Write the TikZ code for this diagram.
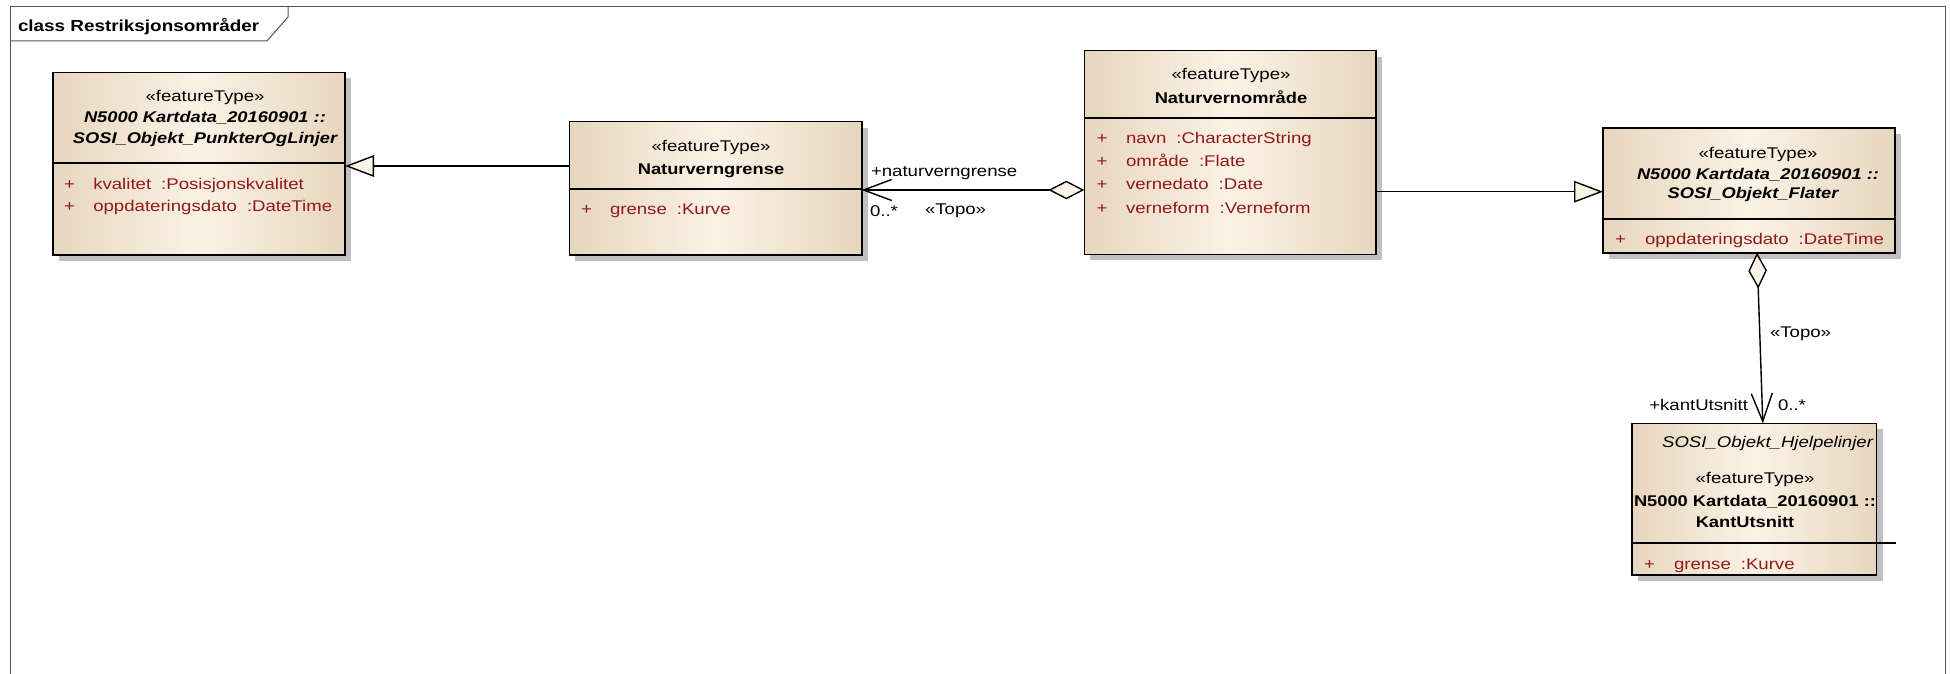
\documentclass[tikz,border=0pt]{standalone}
\usepackage{fontspec}
\setmainfont{Liberation Sans}[FakeStretch=1.2, BoldFeatures={FakeStretch=1.18}, BoldItalicFeatures={FakeStretch=1.18}]
\usetikzlibrary{arrows.meta,calc}
\definecolor{tanedge}{RGB}{231,214,190}
\definecolor{tanmid}{RGB}{251,242,230}
\definecolor{attrred}{RGB}{145,25,25}
\definecolor{shadowgray}{RGB}{192,192,192}
\definecolor{framegray}{RGB}{85,85,85}
\definecolor{creamfill}{RGB}{253,244,232}
\newcommand{\umlbox}[5]{%
  \node[shadowbox, minimum width=#4pt, minimum height=#5pt] (#1s) at (#2+6,#3+6) {};
  \node[classbox, minimum width=#4pt, minimum height=#5pt] (#1) at (#2,#3) {};
}
\begin{document}
\begin{tikzpicture}[x=1pt,y=-1pt,
  shadowbox/.style={fill=shadowgray, draw=none, inner sep=0pt, outer sep=0pt},
  classbox/.style={draw=black, line width=1.6pt, left color=tanedge, right color=tanedge, middle color=tanmid, inner sep=0pt, outer sep=0pt},
  divider/.style={draw=black, line width=1.6pt},
  conn/.style={draw=black, line width=1.4pt},
  gen/.style={conn, -{Triangle[length=29pt, width=21.6pt, fill=creamfill]}},
  agg/.style={conn, {Diamond[length=36pt, width=18.6pt, fill=creamfill]}-{Straight Barb[length=28pt, width=21pt]}},
  txt/.style={inner sep=0pt, outer sep=0pt, font=\fontsize{15.5}{18}\selectfont},
  stereo/.style={txt, anchor=base},
  cname/.style={txt, anchor=base, font=\fontsize{15.5}{18}\selectfont\bfseries},
  aname/.style={txt, anchor=base, font=\fontsize{15.5}{18}\selectfont\bfseries\itshape},
  iname/.style={txt, anchor=base east, font=\fontsize{15.5}{18}\selectfont\itshape},
  plus/.style={txt, anchor=base west, text=attrred},
  attr/.style={txt, anchor=base west, text=attrred},
  lbl/.style={txt, anchor=base west},
  lble/.style={txt, anchor=base east},
  frameline/.style={draw=framegray, line width=1pt},
  titletext/.style={inner sep=0pt, outer sep=0pt, anchor=base west, font=\fontsize{16}{18}\selectfont\bfseries}
]
\useasboundingbox (0,0) rectangle (1950,674);
\fill[white] (0,0) rectangle (1950,674);

% frame
\draw[frameline] (10,674) -- (10,7) -- (1945,7) -- (1945,674);
\draw[frameline] (10,41) -- (267,41) -- (288,17) -- (288,7);
\node[titletext] (title) at (18,31.5) {class Restriksjonsområder};

% boxes
\umlbox{b1}{198.9}{163.7}{292.3}{182.7}
\umlbox{b2}{715.5}{188.3}{292.4}{133.3}
\umlbox{b3}{1230.2}{152.5}{291.7}{203.6}
\umlbox{b4}{1749}{190.5}{292}{124.4}
\umlbox{b5}{1754.3}{499.2}{244.7}{151.7}

% dividers
\draw[divider] (b1.west |- 0,162.7) -- (b1.east |- 0,162.7);
\draw[divider] (b2.west |- 0,189) -- (b2.east |- 0,189);
\draw[divider] (b3.west |- 0,118.3) -- (b3.east |- 0,118.3);
\draw[divider] (b4.west |- 0,219) -- (b4.east |- 0,219);
\draw[divider] (b5.west |- 0,543) -- (1896,543);

% box 1
\node[stereo] (b1t1) at (205,102) {«featureType»};
\node[aname] (b1t2) at (205,123) {N5000 Kartdata\_20160901 ::};
\node[aname] (b1t3) at (205,143) {SOSI\_Objekt\_PunkterOgLinjer};
\node[plus] (b1p1) at (64,189) {+};
\node[attr] (b1a1) at (93.3,189) {kvalitet\hspace{10pt}:Posisjonskvalitet};
\node[plus] (b1p2) at (64,211) {+};
\node[attr] (b1a2) at (93.3,211) {oppdateringsdato\hspace{10pt}:DateTime};

% box 2
\node[stereo] (b2t1) at (711,151.7) {«featureType»};
\node[cname] (b2t2) at (711,174) {Naturverngrense};
\node[plus] (b2p1) at (581,214) {+};
\node[attr] (b2a1) at (610,214) {grense\hspace{10pt}:Kurve};

% box 3
\node[stereo] (b3t1) at (1231,80) {«featureType»};
\node[cname] (b3t2) at (1231,103) {Naturvernområde};
\node[plus] (b3p1) at (1096.7,143) {+};
\node[attr] (b3a1) at (1126,143) {navn\hspace{10pt}:CharacterString};
\node[plus] (b3p2) at (1096.7,166) {+};
\node[attr] (b3a2) at (1126,166) {område\hspace{10pt}:Flate};
\node[plus] (b3p3) at (1096.7,189) {+};
\node[attr] (b3a3) at (1126,189) {vernedato\hspace{10pt}:Date};
\node[plus] (b3p4) at (1096.7,213) {+};
\node[attr] (b3a4) at (1126,213) {verneform\hspace{10pt}:Verneform};

% box 4
\node[stereo] (b4t1) at (1758,158) {«featureType»};
\node[aname] (b4t2) at (1758,179) {N5000 Kartdata\_20160901 ::};
\node[aname] (b4t3) at (1753,198) {SOSI\_Objekt\_Flater};
\node[plus] (b4p1) at (1615,244) {+};
\node[attr] (b4a1) at (1645,244) {oppdateringsdato\hspace{10pt}:DateTime};

% box 5
\node[iname] (b5t0) at (1873,447) {SOSI\_Objekt\_Hjelpelinjer};
\node[stereo] (b5t1) at (1755,483) {«featureType»};
\node[cname] (b5t2) at (1755,506) {N5000 Kartdata\_20160901 ::};
\node[cname] (b5t3) at (1745,527) {KantUtsnitt};
\node[plus] (b5p1) at (1644,569) {+};
\node[attr] (b5a1) at (1674,569) {grense\hspace{10pt}:Kurve};

% connector end points on the boxes
\coordinate (g1e) at ([yshift=-2.3pt]b1.east);
\coordinate (g1s) at (b2.west |- g1e);
\coordinate (g2e) at ([yshift=-1.2pt]b4.west);
\coordinate (g2s) at (b3.east |- g2e);
\coordinate (a1e) at ([yshift=-1.7pt]b2.east);
\coordinate (a1s) at (b3.west |- a1e);
\coordinate (a2s) at ([xshift=8pt]b4.south);
\coordinate (a2e) at ([xshift=8.5pt]b5.north);

% connectors
\draw[gen] (g1s) -- (g1e);
\draw[gen] (g2s) -- (g2e);
\draw[agg] (a1s) -- (a1e);
\draw[agg] (a2s) -- (a2e);

% connector labels
\node[lbl] (l1) at (871,176) {+naturverngrense};
\node[lbl] (l2) at (870,216.7) {0..*};
\node[lbl] (l3) at (925,214) {«Topo»};
\node[lbl] (l4) at (1770,337) {«Topo»};
\node[lble] (l5) at (1748,410) {+kantUtsnitt};
\node[lbl] (l6) at (1778,410) {0..*};
\end{tikzpicture}
\end{document}
